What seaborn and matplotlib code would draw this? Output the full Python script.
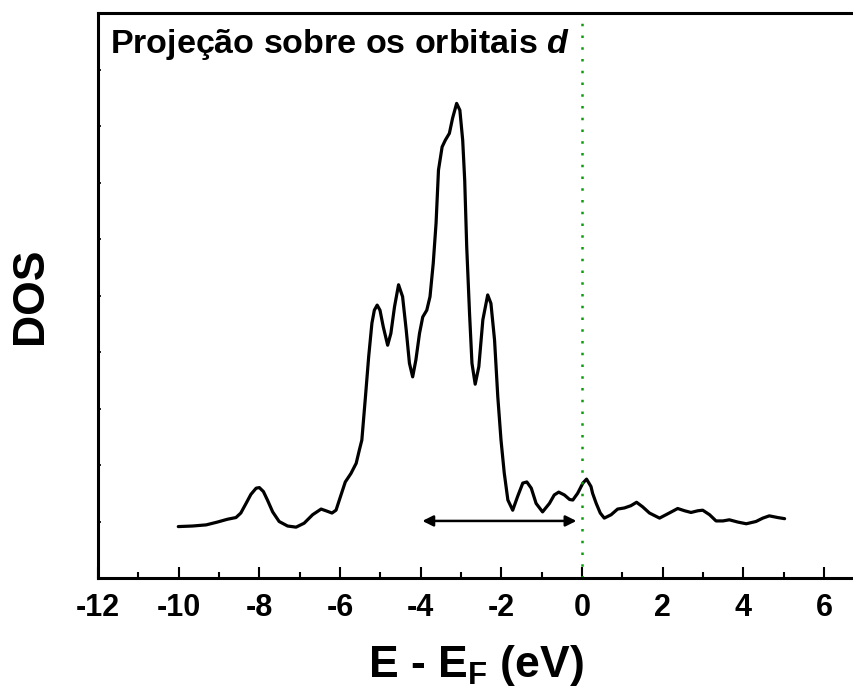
import matplotlib
matplotlib.use("Agg")
import matplotlib.pyplot as plt
import seaborn as sns
import pandas as pd
from matplotlib.ticker import MultipleLocator

energy = [-10.01, -9.66, -9.32, -9.04, -8.79, -8.58, -8.46, -8.33, -8.21, -8.08, -8.00, -7.90,
          -7.80, -7.67, -7.51, -7.30, -7.09, -6.89, -6.68, -6.47, -6.35, -6.20, -6.10, -5.99,
          -5.87, -5.73, -5.60, -5.52, -5.46, -5.37, -5.29, -5.21, -5.15, -5.08, -5.01, -4.93,
          -4.82, -4.74, -4.65, -4.55, -4.45, -4.36, -4.28, -4.20, -4.12, -4.03, -3.95, -3.85,
          -3.77, -3.69, -3.62, -3.56, -3.47, -3.39, -3.29, -3.21, -3.11, -3.03, -2.96, -2.91,
          -2.86, -2.79, -2.73, -2.65, -2.56, -2.46, -2.34, -2.26, -2.17, -2.09, -2.01, -1.93,
          -1.84, -1.72, -1.60, -1.47, -1.37, -1.26, -1.14, -0.98, -0.81, -0.69, -0.58, -0.44,
          -0.31, -0.23, -0.11, 0.02, 0.11, 0.22, 0.26, 0.35, 0.45, 0.55, 0.72, 0.88, 1.05,
          1.21, 1.35, 1.50, 1.67, 1.92, 2.16, 2.37, 2.54, 2.70, 2.87, 2.99, 3.16, 3.32, 3.49,
          3.65, 3.86, 4.07, 4.31, 4.48, 4.64, 4.85, 5.02]
dos = [0.91, 0.92, 0.94, 0.99, 1.04, 1.07, 1.15, 1.32, 1.48, 1.59, 1.60, 1.53,
       1.38, 1.17, 1.00, 0.92, 0.90, 0.97, 1.12, 1.22, 1.19, 1.15, 1.20, 1.44,
       1.70, 1.85, 2.03, 2.27, 2.44, 3.21, 3.92, 4.51, 4.74, 4.83, 4.74, 4.45,
       4.12, 4.33, 4.80, 5.19, 4.98, 4.39, 3.80, 3.56, 3.86, 4.33, 4.62, 4.74,
       4.98, 5.57, 6.28, 7.22, 7.63, 7.75, 7.87, 8.14, 8.40, 8.28, 7.75, 7.04,
       5.86, 4.68, 3.80, 3.43, 3.74, 4.57, 5.01, 4.86, 4.21, 3.21, 2.44, 1.86,
       1.38, 1.20, 1.44, 1.68, 1.70, 1.59, 1.32, 1.17, 1.32, 1.47, 1.52, 1.47,
       1.39, 1.38, 1.50, 1.68, 1.75, 1.62, 1.50, 1.32, 1.15, 1.06, 1.12, 1.22, 1.24,
       1.28, 1.34, 1.26, 1.15, 1.06, 1.15, 1.23, 1.19, 1.16, 1.19, 1.20, 1.12, 1.01, 1.01,
       1.03, 0.99, 0.96, 1.00, 1.06, 1.10, 1.07, 1.05]

arrow_x = [-3.96, -0.14]
arrow_y = 1.01
x_ticks = [-12, -10, -8, -6, -4, -2, 0, 2, 4, 6]

sns.set_style("ticks")
plt.rcParams['font.family'] = ['Liberation Sans', 'DejaVu Sans']
plt.rcParams['text.color'] = 'black'
plt.rcParams['axes.labelcolor'] = 'black'
plt.rcParams['xtick.color'] = 'black'
plt.rcParams['ytick.color'] = 'black'
plt.rcParams['axes.edgecolor'] = 'black'
plt.rcParams['mathtext.fontset'] = 'custom'
plt.rcParams['mathtext.rm'] = 'Liberation Sans'
plt.rcParams['mathtext.bf'] = 'Liberation Sans:bold'
plt.rcParams['mathtext.it'] = 'Liberation Sans:italic'
plt.rcParams['mathtext.bfit'] = 'Liberation Sans:bold:italic'

fig = plt.figure(figsize=(8.54, 6.9), dpi=100)
ax = fig.add_axes([98/854, 112/690, 1 - 98/854, 565/690])

df = pd.DataFrame({"E": energy, "DOS": dos})
sns.lineplot(data=df, x="E", y="DOS", ax=ax, color="black", linewidth=2.3, sort=False)
for ln in ax.get_lines():
    ln.set_solid_joinstyle("round")
    ln.set_solid_capstyle("round")

ax.axvline(0, color="#0a9e0a", linestyle=(0, (1, 3.7)), linewidth=1.8)
ax.annotate("", xy=(arrow_x[0], arrow_y), xytext=(arrow_x[1], arrow_y),
            arrowprops=dict(arrowstyle="<|-|>", color="black", lw=1.8,
                            mutation_scale=16, shrinkA=0, shrinkB=0))

ax.set_xlim(-12, 6.74)
ax.set_ylim(0, 10)
ax.set_xticks(x_ticks)
ax.set_xticklabels([str(t) for t in x_ticks])
ax.xaxis.set_minor_locator(MultipleLocator(1))
ax.yaxis.set_major_locator(MultipleLocator(1))
ax.set_yticklabels([])
ax.tick_params(axis="x", which="major", direction="in", length=8, width=1.5,
               labelsize=22, pad=11)
ax.tick_params(axis="x", which="minor", direction="in", length=4.5, width=1.5)
ax.tick_params(axis="y", which="major", direction="in", length=2, width=1.2)
for lab in ax.get_xticklabels():
    lab.set_fontweight("bold")

for side in ["left", "bottom", "top"]:
    ax.spines[side].set_linewidth(2.2)
ax.spines["right"].set_visible(False)

ax.set_xlabel(r"E - E$_{\mathbf{F}}$ (eV)", fontsize=32, fontweight="bold", labelpad=14)
ax.set_ylabel("DOS", fontsize=32, fontweight="bold", labelpad=30)

ax.text(0.016, 0.975, r"Projeção sobre os orbitais $\mathbfit{d}$", transform=ax.transAxes,
        fontsize=24.5, fontweight="bold", ha="left", va="top")

fig.savefig("out.png", dpi=100)
